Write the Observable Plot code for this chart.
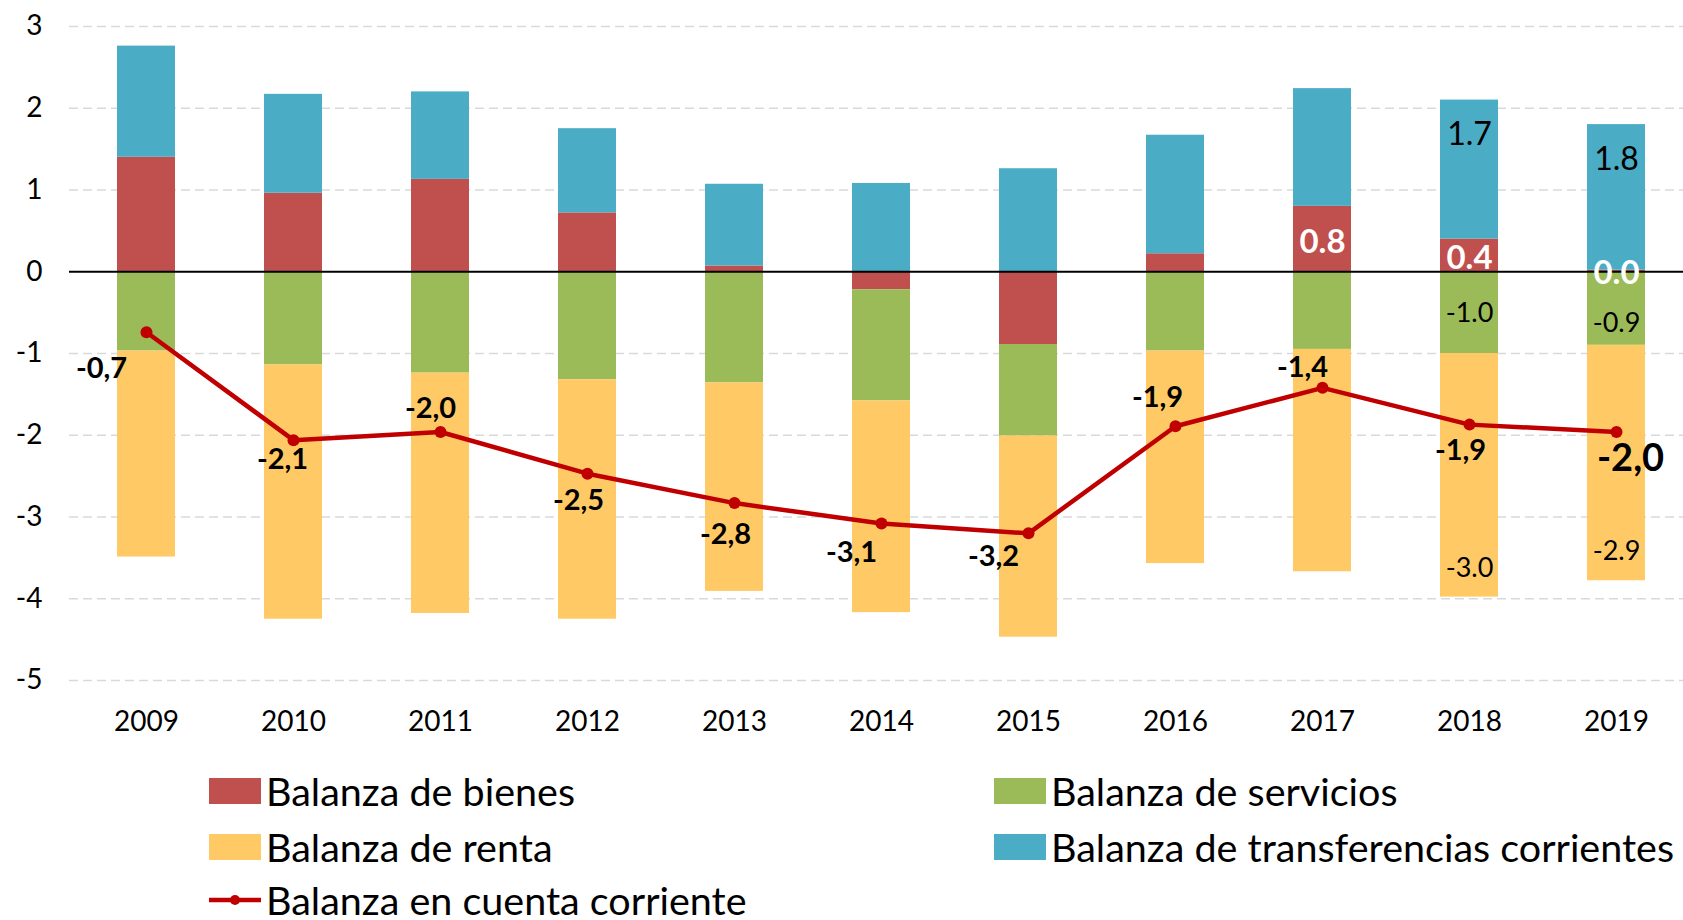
<!DOCTYPE html>
<html><head><meta charset="utf-8">
<script src="https://cdn.jsdelivr.net/npm/d3@7"></script>
<script src="https://cdn.jsdelivr.net/npm/@observablehq/plot@0.6"></script>
<style>
html,body{margin:0;padding:0;background:#fff;overflow:hidden;}
#chart{position:relative;width:1683px;height:920px;font-family:Lato,sans-serif;color:#000;}
.item{position:absolute;display:flex;align-items:center;font-size:39.5px;white-space:nowrap;height:40px;line-height:40px;}
.sw{width:52px;height:26px;margin-right:5px;flex:none;}
</style></head><body><div id="chart"></div>
<script>
// ---- data ----
const years = [2009, 2010, 2011, 2012, 2013, 2014, 2015, 2016, 2017, 2018, 2019];
const bienes = [1.40, 0.96, 1.13, 0.72, 0.07, -0.22, -0.89, 0.22, 0.80, 0.40, 0.02];
const servicios = [-0.97, -1.14, -1.24, -1.32, -1.36, -1.36, -1.12, -0.97, -0.95, -1.00, -0.90];
const renta = [-2.52, -3.11, -2.94, -2.93, -2.55, -2.59, -2.46, -2.60, -2.72, -2.98, -2.88];
const transferencias = [1.36, 1.21, 1.07, 1.03, 1.00, 1.08, 1.26, 1.45, 1.44, 1.70, 1.78];
const cuentaCorriente = [-0.74, -2.06, -1.96, -2.47, -2.83, -3.08, -3.20, -1.89, -1.42, -1.87, -1.96];
const seriesKeys = ["bienes", "servicios", "renta", "transferencias"];
const seriesNames = ["Balanza de bienes", "Balanza de servicios", "Balanza de renta", "Balanza de transferencias corrientes"];
const lineName = "Balanza en cuenta corriente";
const yTicks = [3, 2, 1, 0, -1, -2, -3, -4, -5];
const labeledYears = {bienes: [2017, 2018, 2019], servicios: [2018, 2019], renta: [2018, 2019], transferencias: [2018, 2019]};

// ---- styles / layout ----
const colors = ["#C0504D", "#9BBB59", "#FFCA66", "#4BACC6"];
const lineColor = "#C00000";
const lineLabelOffsets = [[-45,36],[-11,20],[-10,-23],[-9,27],[-9,32],[-30,29],[-35,23],[-18,-29],[-20,-20],[-9,26],[14,27]];
const servLabelDy = {2018: 1, 2019: 15};

const valuesBySeries = {bienes, servicios, renta, transferencias};
const barData = years.flatMap((year, i) => seriesKeys.map(s => ({year, series: s, value: valuesBySeries[s][i]})));
const lineData = years.map((year, i) => ({year, value: cuentaCorriente[i]}));
const labelText = (s, onlyYear) => d => (d.series === s && labeledYears[s].includes(d.year) && (onlyYear == null || d.year === onlyYear)) ? d.value.toFixed(1) : null;
const comma = v => v.toFixed(1).replace(".", ",");

const lineLabels = lineData.map((d, i) => Plot.text([d], {
  x: "year", y: "value", text: dd => comma(dd.value),
  dx: lineLabelOffsets[i][0], dy: lineLabelOffsets[i][1],
  fontWeight: "bold", fontSize: i === lineData.length - 1 ? 38 : 29,
  fill: "#000", textAnchor: "middle", lineAnchor: "middle"
}));
const servLabels = labeledYears.servicios.map(yr => Plot.text(barData, Plot.stackY({
  x: "year", y: "value", z: "series", text: labelText("servicios", yr),
  fill: "#000", fontSize: 27, dy: servLabelDy[yr], lineAnchor: "middle"
})));

const plot = Plot.plot({
  width: 1683, height: 740,
  marginLeft: 69, marginRight: 0, marginTop: 26, marginBottom: 60,
  style: {fontFamily: "Lato, sans-serif", fontSize: "28px", color: "#000", background: "transparent", overflow: "visible"},
  x: {type: "band", domain: years, paddingInner: 0.606, paddingOuter: 0.249, insetLeft: 10, label: null, tickSize: 0, tickPadding: 31, tickFormat: d => String(d)},
  y: {domain: [-5, 3], ticks: yTicks, label: null, tickSize: 0, tickPadding: 27, tickFormat: d => String(d)},
  color: {domain: seriesKeys, range: colors},
  marks: [
    Plot.ruleY(yTicks.filter(t => t !== 0), {stroke: "#d9d9d9", strokeWidth: 1.6, strokeDasharray: "9,5"}),
    Plot.barY(barData, {x: "year", y: "value", fill: "series", z: "series"}),
    Plot.ruleY([0], {stroke: "#000", strokeWidth: 2}),
    Plot.line(lineData, {x: "year", y: "value", stroke: lineColor, strokeWidth: 4.5}),
    Plot.dot(lineData, {x: "year", y: "value", r: 6, fill: lineColor}),
    Plot.text(barData, Plot.stackY({x: "year", y: "value", z: "series", text: labelText("bienes"), fill: "#fff", fontWeight: "bold", fontSize: 33, dy: 3, lineAnchor: "middle"})),
    Plot.text(barData, Plot.stackY2({x: "year", y: "value", z: "series", text: labelText("transferencias"), fill: "#000", fontSize: 32, dy: 35, lineAnchor: "middle"})),
    ...servLabels,
    Plot.text(barData, Plot.stackY2({x: "year", y: "value", z: "series", text: labelText("renta"), fill: "#000", fontSize: 27, dy: -29, lineAnchor: "middle"})),
    ...lineLabels
  ]
});
const chart = document.getElementById("chart");
chart.appendChild(plot);

// ---- legend (HTML, below the SVG) ----
const legendItems = [
  {name: seriesNames[0], color: colors[0], left: 209, top: 771},
  {name: seriesNames[1], color: colors[1], left: 994, top: 771},
  {name: seriesNames[2], color: colors[2], left: 209, top: 827},
  {name: seriesNames[3], color: colors[3], left: 994, top: 827},
  {name: lineName, color: lineColor, left: 209, top: 880, line: true}
];
for (const it of legendItems) {
  const div = document.createElement("div");
  div.className = "item";
  div.style.left = it.left + "px";
  div.style.top = it.top + "px";
  if (it.line) {
    div.innerHTML = `<svg class="sw" width="52" height="26" viewBox="0 0 52 26"><line x1="0" y1="13" x2="52" y2="13" stroke="${it.color}" stroke-width="4.5"/><circle cx="26" cy="13" r="5" fill="${it.color}"/></svg>`;
  } else {
    const sw = document.createElement("div");
    sw.className = "sw";
    sw.style.background = it.color;
    div.appendChild(sw);
  }
  const span = document.createElement("span");
  span.textContent = it.name;
  div.appendChild(span);
  chart.appendChild(div);
}
</script>
</body></html>
